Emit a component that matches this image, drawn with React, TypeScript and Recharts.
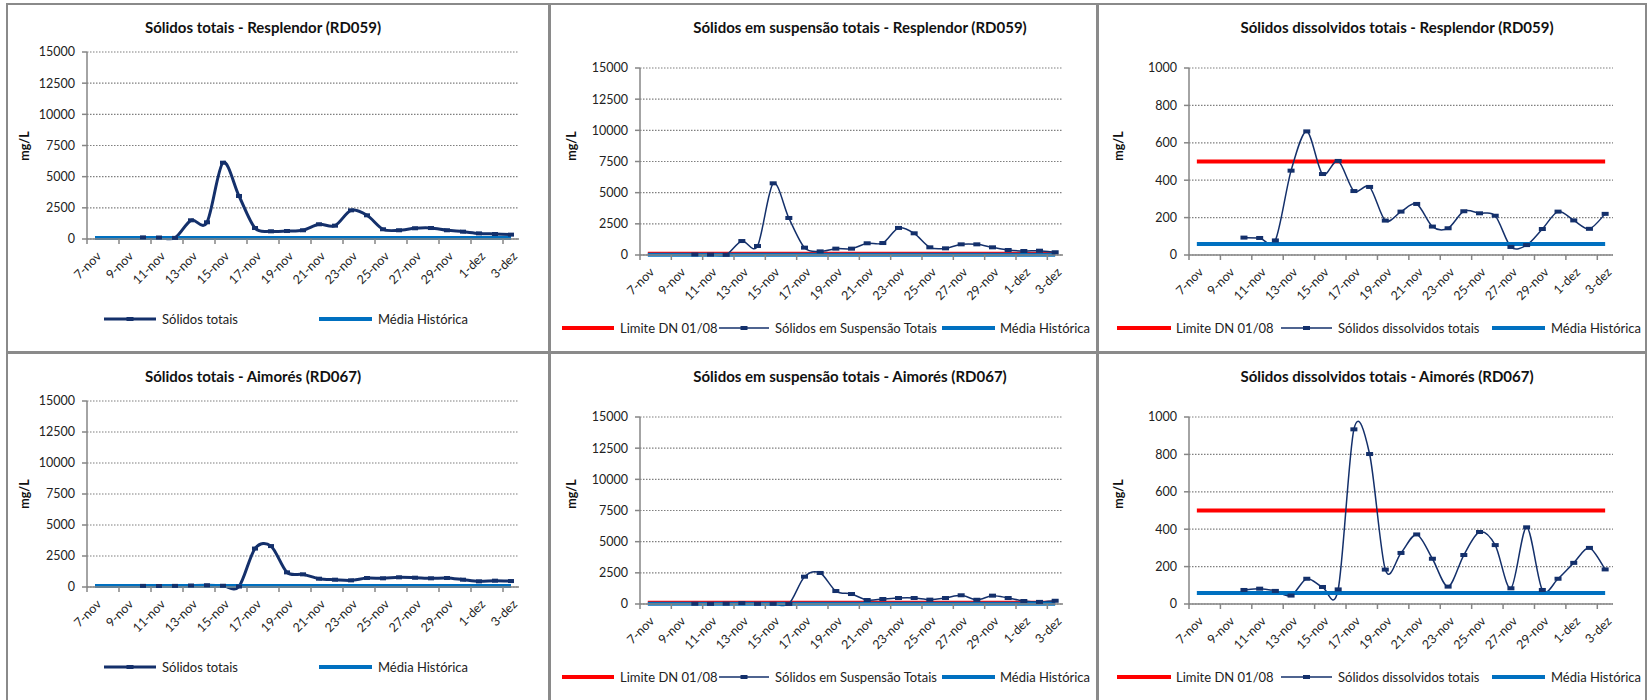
import React from "react";
import { LineChart, Line, XAxis, YAxis, CartesianGrid, ReferenceLine } from "recharts";

// dates on the category axis
const days = [
  "7-nov", "8-nov", "9-nov", "10-nov", "11-nov", "12-nov", "13-nov", "14-nov", "15-nov",
  "16-nov", "17-nov", "18-nov", "19-nov", "20-nov", "21-nov", "22-nov", "23-nov", "24-nov",
  "25-nov", "26-nov", "27-nov", "28-nov", "29-nov", "30-nov", "1-dez", "2-dez", "3-dez",
];
const tickLabels = [
  "7-nov", "9-nov", "11-nov", "13-nov", "15-nov", "17-nov", "19-nov",
  "21-nov", "23-nov", "25-nov", "27-nov", "29-nov", "1-dez", "3-dez",
];

// Resplendor (RD059)
const stResplendor = [null, null, null, 130, 120, 90, 1500, 1340, 6120, 3450, 880, 615, 640, 700, 1180, 1070, 2300, 1900, 780, 700, 860, 880, 700, 590, 450, 400, 350];
const sstResplendor = [null, null, null, 40, 30, 12, 1120, 720, 5750, 2970, 590, 290, 510, 510, 940, 960, 2170, 1740, 615, 535, 855, 855, 615, 400, 320, 345, 220];
const sdtResplendor = [null, null, null, 93, 91, 78, 451, 661, 433, 503, 342, 364, 184, 232, 273, 152, 143, 234, 223, 210, 43, 53, 139, 232, 185, 140, 220];

// Aimorés (RD067)
const stAimores = [null, null, null, 90, 80, 90, 120, 140, 100, 40, 3100, 3300, 1180, 1020, 670, 590, 535, 725, 700, 780, 750, 700, 725, 590, 455, 510, 480];
const sstAimores = [null, null, null, 20, 10, 25, 70, 15, 15, 5, 2190, 2490, 1040, 800, 320, 400, 480, 480, 350, 480, 700, 340, 670, 480, 240, 170, 260];
const sdtAimores = [null, null, null, 75, 82, 70, 45, 135, 91, 78, 934, 802, 184, 273, 372, 242, 93, 262, 385, 315, 84, 410, 75, 135, 220, 300, 185];

// reference levels (mg/L)
const mediaHistorica = { st: 80, sst: 20, sdt: 59 };
const limiteDN = { sst: 100, sdt: 500 };

const ticks15000 = [0, 2500, 5000, 7500, 10000, 12500, 15000];
const ticks1000 = [0, 200, 400, 600, 800, 1000];

const FONT = "Lato, 'Open Sans', sans-serif";
const NAVY = "#14306b";
const BLUE = "#0070c0";
const RED = "#ff0000";
const AXIS = "#868686";

const xTicks = tickLabels.map((l) => days.indexOf(l));

// Excel-like smoothed line (bezier through points)
const TENSION = 1 / 6.5;
function excelSmooth(context: any) {
  let pts: number[][] = [];
  return {
    areaStart() {},
    areaEnd() {},
    lineStart() {
      pts = [];
    },
    lineEnd() {
      const n = pts.length;
      if (!n) return;
      context.moveTo(pts[0][0], pts[0][1]);
      if (n === 1) {
        context.lineTo(pts[0][0], pts[0][1]);
        return;
      }
      for (let i = 0; i < n - 1; i++) {
        const p0 = pts[Math.max(i - 1, 0)];
        const p1 = pts[i];
        const p2 = pts[i + 1];
        const p3 = pts[Math.min(i + 2, n - 1)];
        context.bezierCurveTo(
          p1[0] + (p2[0] - p0[0]) * TENSION,
          p1[1] + (p2[1] - p0[1]) * TENSION,
          p2[0] - (p3[0] - p1[0]) * TENSION,
          p2[1] - (p3[1] - p1[1]) * TENSION,
          p2[0],
          p2[1]
        );
      }
    },
    point(x: number, y: number) {
      pts.push([+x, +y]);
    },
  };
}

const XTick = (props: any) => {
  const { x, y, payload } = props;
  return (
    <g transform={`translate(${x + 15},${y + 11})`}>
      <text textAnchor="end" transform="rotate(-45)" fontSize={12.5} fill="#222" fontFamily={FONT}>
        {days[payload.value]}
      </text>
    </g>
  );
};

type LegendItem = { kind: "navy" | "navyThick" | "red" | "blue"; x0: number; x1: number; tx: number; label: string };

type ChartCfg = {
  title: string;
  titleX: number;
  titleY: number;
  plot: { x0: number; x1: number; y0: number; y1: number };
  yMax: number;
  yTicks: number[];
  values: (number | null)[];
  thick: boolean;
  media: number;
  limit?: number;
  ylabelX: number;
  ylabelY: number;
  legendY: number;
  legend: LegendItem[];
};

const charts: ChartCfg[] = [
  {
    title: "Sólidos totais - Resplendor (RD059)",
    titleX: 263, titleY: 27,
    plot: { x0: 87, x1: 519, y0: 52, y1: 239 },
    yMax: 15000, yTicks: ticks15000, values: stResplendor, thick: true,
    media: mediaHistorica.st,
    ylabelX: 24, ylabelY: 146, legendY: 319,
    legend: [
      { kind: "navyThick", x0: 104, x1: 156, tx: 162, label: "Sólidos totais" },
      { kind: "blue", x0: 319, x1: 372, tx: 378, label: "Média Histórica" },
    ],
  },
  {
    title: "Sólidos em suspensão totais - Resplendor (RD059)",
    titleX: 860, titleY: 27,
    plot: { x0: 640, x1: 1063, y0: 68, y1: 255 },
    yMax: 15000, yTicks: ticks15000, values: sstResplendor, thick: false,
    media: mediaHistorica.sst, limit: limiteDN.sst,
    ylabelX: 571, ylabelY: 146, legendY: 328,
    legend: [
      { kind: "red", x0: 562, x1: 614, tx: 620, label: "Limite DN 01/08" },
      { kind: "navy", x0: 719, x1: 769, tx: 775, label: "Sólidos em Suspensão Totais" },
      { kind: "blue", x0: 942, x1: 995, tx: 1000, label: "Média Histórica" },
    ],
  },
  {
    title: "Sólidos dissolvidos totais - Resplendor (RD059)",
    titleX: 1397, titleY: 27,
    plot: { x0: 1189, x1: 1613, y0: 68, y1: 255 },
    yMax: 1000, yTicks: ticks1000, values: sdtResplendor, thick: false,
    media: mediaHistorica.sdt, limit: limiteDN.sdt,
    ylabelX: 1118, ylabelY: 146, legendY: 328,
    legend: [
      { kind: "red", x0: 1117, x1: 1171, tx: 1176, label: "Limite DN 01/08" },
      { kind: "navy", x0: 1281, x1: 1332, tx: 1338, label: "Sólidos dissolvidos totais" },
      { kind: "blue", x0: 1492, x1: 1545, tx: 1551, label: "Média Histórica" },
    ],
  },
  {
    title: "Sólidos totais - Aimorés (RD067)",
    titleX: 253, titleY: 376,
    plot: { x0: 87, x1: 519, y0: 401, y1: 587 },
    yMax: 15000, yTicks: ticks15000, values: stAimores, thick: true,
    media: mediaHistorica.st,
    ylabelX: 24, ylabelY: 494, legendY: 667,
    legend: [
      { kind: "navyThick", x0: 104, x1: 156, tx: 162, label: "Sólidos totais" },
      { kind: "blue", x0: 319, x1: 372, tx: 378, label: "Média Histórica" },
    ],
  },
  {
    title: "Sólidos em suspensão totais - Aimorés (RD067)",
    titleX: 850, titleY: 376,
    plot: { x0: 640, x1: 1063, y0: 417, y1: 604 },
    yMax: 15000, yTicks: ticks15000, values: sstAimores, thick: false,
    media: mediaHistorica.sst, limit: limiteDN.sst,
    ylabelX: 571, ylabelY: 494, legendY: 677,
    legend: [
      { kind: "red", x0: 562, x1: 614, tx: 620, label: "Limite DN 01/08" },
      { kind: "navy", x0: 719, x1: 769, tx: 775, label: "Sólidos em Suspensão Totais" },
      { kind: "blue", x0: 942, x1: 995, tx: 1000, label: "Média Histórica" },
    ],
  },
  {
    title: "Sólidos dissolvidos totais - Aimorés (RD067)",
    titleX: 1387, titleY: 376,
    plot: { x0: 1189, x1: 1613, y0: 417, y1: 604 },
    yMax: 1000, yTicks: ticks1000, values: sdtAimores, thick: false,
    media: mediaHistorica.sdt, limit: limiteDN.sdt,
    ylabelX: 1118, ylabelY: 494, legendY: 677,
    legend: [
      { kind: "red", x0: 1117, x1: 1171, tx: 1176, label: "Limite DN 01/08" },
      { kind: "navy", x0: 1281, x1: 1332, tx: 1338, label: "Sólidos dissolvidos totais" },
      { kind: "blue", x0: 1492, x1: 1545, tx: 1551, label: "Média Histórica" },
    ],
  },
];

const marker = (p: any, w: number, h: number) => {
  const k = `m-${p.index}`;
  if (p.cx == null || p.cy == null || p.payload?.v == null) return <g key={k} />;
  return <rect key={k} x={p.cx - w / 2} y={p.cy - h / 2} width={w} height={h} fill={NAVY} />;
};

function LegendRow({ items, y }: { items: LegendItem[]; y: number }) {
  return (
    <>
      {items.map((it) => {
        const w = it.x1 - it.x0;
        const color = it.kind === "red" ? RED : it.kind === "blue" ? BLUE : NAVY;
        const sw = it.kind === "navy" ? 1.5 : it.kind === "navyThick" ? 3 : 4;
        return (
          <React.Fragment key={it.label + it.x0}>
            <svg style={{ position: "absolute", left: it.x0, top: y - 5 }} width={w} height={10}>
              <line x1={0} x2={w} y1={5} y2={5} stroke={color} strokeWidth={sw} />
              {it.kind.startsWith("navy") && <rect x={w / 2 - 3.5} y={3} width={7} height={4} fill={NAVY} />}
            </svg>
            <div
              style={{
                position: "absolute", left: it.tx, top: y, transform: "translateY(-50%)",
                fontSize: 13, fontFamily: FONT, color: "#222", whiteSpace: "nowrap",
              }}
            >
              {it.label}
            </div>
          </React.Fragment>
        );
      })}
    </>
  );
}

function SolidsChart({ cfg }: { cfg: ChartCfg }) {
  const { plot } = cfg;
  const YW = 60, XH = 60;
  const ML = 20, MR = 20, MT = 15, MB = 10;
  const width = plot.x1 - plot.x0 + ML + YW + MR;
  const height = plot.y1 - plot.y0 + MT + MB + XH;
  const data = days.map((d, i) => ({ x: i + 0.5, day: d, v: cfg.values[i] }));
  const first = 0.5;
  const last = days.length - 0.5;
  return (
    <>
      <div
        style={{
          position: "absolute", left: cfg.titleX, top: cfg.titleY, transform: "translate(-50%,-50%)",
          fontFamily: FONT, fontWeight: 700, fontSize: 15, color: "#111", whiteSpace: "nowrap",
        }}
      >
        {cfg.title}
      </div>
      <div
        style={{
          position: "absolute", left: cfg.ylabelX, top: cfg.ylabelY, transform: "translate(-50%,-50%) rotate(-90deg)",
          fontFamily: FONT, fontWeight: 700, fontSize: 12.5, color: "#111", whiteSpace: "nowrap",
        }}
      >
        mg/L
      </div>
      <div style={{ position: "absolute", left: plot.x0 - ML - YW, top: plot.y0 - MT }}>
        <LineChart width={width} height={height} data={data} margin={{ top: MT, right: MR, bottom: MB, left: ML }}>
          <CartesianGrid vertical={false} stroke="#7f7f7f" strokeDasharray="1.5 1.5" strokeWidth={1.2} />
          <XAxis
            type="number"
            dataKey="x"
            domain={[0, days.length]}
            ticks={xTicks}
            interval={0}
            height={XH}
            tick={<XTick />}
            tickSize={5}
            axisLine={{ stroke: AXIS, strokeWidth: 1.5 }}
            tickLine={{ stroke: AXIS, strokeWidth: 1.5 }}
          />
          <YAxis
            type="number"
            domain={[0, cfg.yMax]}
            ticks={cfg.yTicks}
            interval={0}
            width={YW}
            tickSize={5}
            tickMargin={7}
            tick={{ fontSize: 12.5, fill: "#222", fontFamily: FONT }}
            axisLine={{ stroke: AXIS, strokeWidth: 1.5 }}
            tickLine={{ stroke: AXIS, strokeWidth: 1.5 }}
          />
          {cfg.limit != null && (
            <ReferenceLine
              segment={[{ x: first, y: cfg.limit }, { x: last, y: cfg.limit }]}
              stroke={RED}
              strokeWidth={4}
            />
          )}
          <Line
            dataKey="v"
            type={excelSmooth as any}
            stroke={NAVY}
            strokeWidth={cfg.thick ? 3 : 1.5}
            dot={(p: any) => marker(p, cfg.thick ? 6 : 7, 4)}
            activeDot={false}
            isAnimationActive={false}
          />
          <ReferenceLine
            segment={[{ x: first, y: cfg.media }, { x: last, y: cfg.media }]}
            stroke={BLUE}
            strokeWidth={4}
          />
        </LineChart>
      </div>
      <LegendRow items={cfg.legend} y={cfg.legendY} />
    </>
  );
}

const panels = [
  { left: 6, top: 3, width: 544, height: 350 },
  { left: 549, top: 3, width: 549, height: 350 },
  { left: 1097, top: 3, width: 550, height: 350 },
  { left: 6, top: 352, width: 544, height: 350 },
  { left: 549, top: 352, width: 549, height: 350 },
  { left: 1097, top: 352, width: 550, height: 350 },
];

export default function App() {
  return (
    <div style={{ position: "absolute", left: 0, top: 0, width: 1648, height: 700, background: "#fff", overflow: "hidden" }}>
      {panels.map((p, i) => (
        <div
          key={i}
          style={{
            position: "absolute", left: p.left, top: p.top, width: p.width, height: p.height,
            boxSizing: "border-box", border: "2px solid #8a8a8a",
          }}
        />
      ))}
      {charts.map((c) => (
        <SolidsChart key={c.title} cfg={c} />
      ))}
    </div>
  );
}
